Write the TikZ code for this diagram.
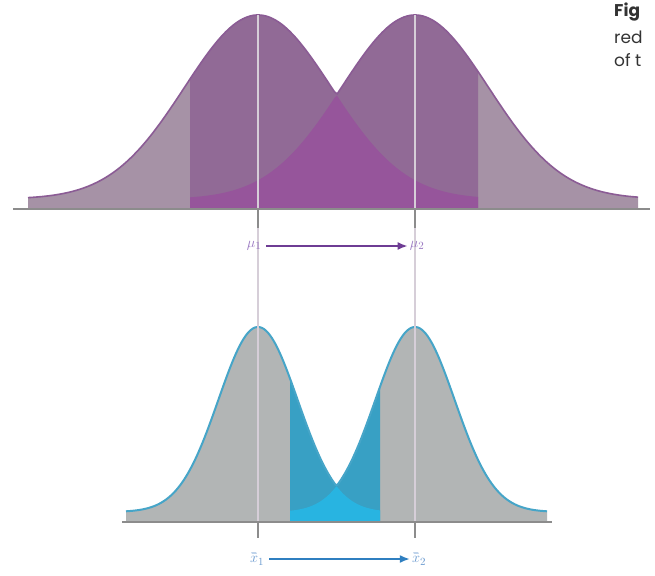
\documentclass[tikz,border=0pt]{standalone}
\usepackage{fontspec}
\newfontfamily\capfont{Poppins}
\usetikzlibrary{arrows.meta}
\definecolor{toplight}{HTML}{A692A6}
\definecolor{topdark}{HTML}{916A96}
\definecolor{topover}{HTML}{96559B}
\definecolor{topstroke}{HTML}{8B5C95}
\definecolor{botgrey}{HTML}{B2B5B5}
\definecolor{botblue}{HTML}{38A0C4}
\definecolor{botover}{HTML}{28B4E1}
\definecolor{botstroke}{HTML}{46A5C8}
\definecolor{axisgrey}{HTML}{8C8C8C}
\definecolor{guide}{HTML}{D6CED8}
\definecolor{mupurple}{HTML}{6E3C94}
\definecolor{mutext}{HTML}{9A78C2}
\definecolor{xblue}{HTML}{2F7FC0}
\definecolor{xtext}{HTML}{6A9AD0}
\definecolor{captext}{HTML}{333333}
\tikzset{
  axisline/.style={draw=axisgrey,line width=1.4pt},
  guideline/.style={draw=guide,line width=1.2pt},
  tickline/.style={draw=axisgrey,line width=1.2pt},
  toplinestyle/.style={draw=topstroke,line width=1.6pt},
  botlinestyle/.style={draw=botstroke,line width=2pt},
  mulabel/.style={text=mutext,font=\fontsize{15}{15}\selectfont,inner sep=2pt},
  xlabel/.style={text=xtext,font=\fontsize{15}{15}\selectfont,inner sep=2pt},
  muarrow/.style={draw=mupurple,line width=1.6pt,shorten <=3pt,-{Latex[length=10pt,width=8pt]}},
  xarrow/.style={draw=xblue,line width=1.6pt,shorten <=3pt,-{Latex[length=10pt,width=8pt]}},
  captionline/.style={anchor=base west,inner sep=0pt,text=captext,font=\capfont\fontsize{17}{17}\selectfont},
}
\begin{document}
\begin{tikzpicture}[x=1pt,y=-1pt,
  declare function={
    fa(\x)=199-184*exp(max(-9,-0.5*((\x-258)/73.5)^2));
    fb(\x)=199-184*exp(max(-9,-0.5*((\x-415)/73.5)^2));
    ga(\x)=512-185*exp(max(-9,-0.5*((\x-258)/39.6)^2));
    gb(\x)=512-185*exp(max(-9,-0.5*((\x-415)/39.6)^2));
  }]
\useasboundingbox[fill=white] (0,0) rectangle (655,575);

% ---------- top distributions ----------
\fill[toplight] (28,209) -- plot[domain=28:638,samples=220] ({\x},{min(fa(\x),fb(\x))}) -- (638,209) -- cycle;
\fill[topdark] (190,209) -- plot[domain=190:478,samples=150] ({\x},{min(fa(\x),fb(\x))}) -- (478,209) -- cycle;
\fill[topover] (190,209) -- plot[domain=190:478,samples=150] ({\x},{max(fa(\x),fb(\x))}) -- (478,209) -- cycle;
\draw[toplinestyle] plot[domain=28:638,samples=220] ({\x},{min(fa(\x),fb(\x))});

% ---------- bottom distributions ----------
\fill[botgrey] (126,522) -- plot[domain=126:547,samples=220] ({\x},{min(ga(\x),gb(\x))}) -- (547,522) -- cycle;
\fill[botblue] (290,522) -- plot[domain=290:380,samples=100] ({\x},{min(ga(\x),gb(\x))}) -- (380,522) -- cycle;
\fill[botover] (290,522) -- plot[domain=290:380,samples=100] ({\x},{max(ga(\x),gb(\x))}) -- (380,522) -- cycle;
\draw[botlinestyle] plot[domain=126:547,samples=220] ({\x},{min(ga(\x),gb(\x))});

% ---------- guide lines ----------
\coordinate (g1top) at (258,15);
\coordinate (g1bot) at (258,522);
\coordinate (g2top) at (415,15);
\coordinate (g2bot) at (415,522);
\draw[guideline] (g1top) -- (g1bot);
\draw[guideline] (g2top) -- (g2bot);

% ---------- axes and ticks ----------
\coordinate (ta1) at (13,209);
\coordinate (ta2) at (650,209);
\coordinate (ba1) at (122,522);
\coordinate (ba2) at (552,522);
\draw[axisline] (ta1) -- (ta2);
\draw[axisline] (ba1) -- (ba2);
\coordinate (t1a) at (258,209); \coordinate (t1b) at (258,228);
\coordinate (t2a) at (415,209); \coordinate (t2b) at (415,228);
\coordinate (b1a) at (258,522); \coordinate (b1b) at (258,538);
\coordinate (b2a) at (415,522); \coordinate (b2b) at (415,538);
\draw[tickline] (t1a) -- (t1b);
\draw[tickline] (t2a) -- (t2b);
\draw[tickline] (b1a) -- (b1b);
\draw[tickline] (b2a) -- (b2b);

% ---------- labels and arrows ----------
\node[mulabel] (mu1) at (254,246) {$\mu_1$};
\node[mulabel] (mu2) at (417,246) {$\mu_2$};
\draw[muarrow] (mu1) -- (mu2);
\node[xlabel] (x1) at (257,559) {$\bar{\bar{x}}_1$};
\node[xlabel] (x2) at (419,559) {$\bar{\bar{x}}_2$};
\draw[xarrow] (x1) -- (x2);

% ---------- caption fragment ----------
\node[captionline] (c1) at (614,17) {\bfseries Fig};
\node[captionline] (c2) at (614,44) {red};
\node[captionline] (c3) at (614,67) {of t};
\end{tikzpicture}
\end{document}
